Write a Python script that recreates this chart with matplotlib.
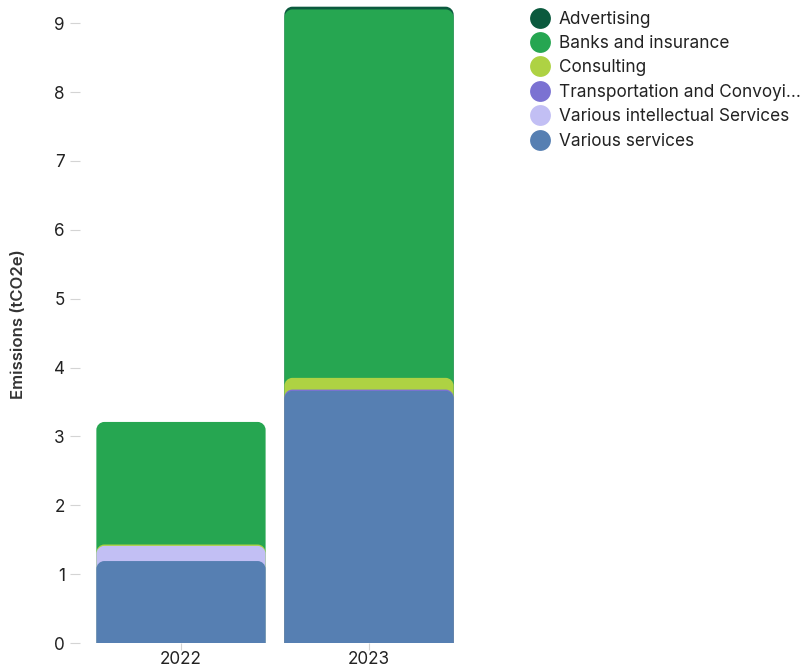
import matplotlib
matplotlib.use("Agg")
import matplotlib.pyplot as plt
from matplotlib.path import Path
from matplotlib.patches import PathPatch
from matplotlib.lines import Line2D
import numpy as np

plt.rcParams['font.family'] = ['Inter', 'DejaVu Sans']

years = ["2022", "2023"]
categories = [
    "Advertising",
    "Banks and insurance",
    "Consulting",
    "Transportation and Convoyi…",
    "Various intellectual Services",
    "Various services",
]
colors = ["#0b5a3e", "#26a651", "#aed243", "#7b72d2", "#c2bff4", "#567fb2"]

# emissions per category (tCO2e), same order as categories
advertising = [0.0, 0.04]
banks = [1.78, 5.35]
consulting = [0.02, 0.17]
transportation = [0.0, 0.02]
intellectual = [0.22, 0.0]
various = [1.19, 3.66]
series = [advertising, banks, consulting, transportation, intellectual, various]

fig = plt.figure(figsize=(8, 6.68), dpi=100)
ax = fig.add_axes([80 / 800, 25 / 668, 390 / 800, 637 / 668])
ax.set_xlim(-0.537, 1.537)
ax.set_ylim(0, 9.25)

x = np.arange(len(years))
width = 0.9

# cumulative tops, stacking from the last category upward
bottoms = np.zeros(len(years))
tops = {}
for i in reversed(range(len(categories))):
    vals = np.array(series[i])
    tops[i] = bottoms + vals
    bottoms = bottoms + vals

fig.canvas.draw()
# corner radius in data units
px_x = ax.transData.transform((1, 0))[0] - ax.transData.transform((0, 0))[0]
px_y = ax.transData.transform((0, 1))[1] - ax.transData.transform((0, 0))[1]
r_px = 8
rx, ry = r_px / px_x, r_px / px_y


def rounded_top(x0, x1, y0, y1):
    h = y1 - y0
    ryy = min(ry, max(h, 0))
    k = 0.5523
    verts = [
        (x0, y0), (x0, y1 - ryy),
        (x0, y1 - ryy + k * ryy), (x0 + rx - k * rx, y1), (x0 + rx, y1),
        (x1 - rx, y1),
        (x1 - rx + k * rx, y1), (x1, y1 - ryy + k * ryy), (x1, y1 - ryy),
        (x1, y0), (x0, y0),
    ]
    codes = [Path.MOVETO, Path.LINETO,
             Path.CURVE4, Path.CURVE4, Path.CURVE4,
             Path.LINETO,
             Path.CURVE4, Path.CURVE4, Path.CURVE4,
             Path.LINETO, Path.CLOSEPOLY]
    return Path(verts, codes)


# upper segments are drawn first so the lower ones sit in front of them
for i in range(len(categories)):
    for j in range(len(years)):
        if series[i][j] <= 0:
            continue
        p = rounded_top(x[j] - width / 2, x[j] + width / 2, 0.0, tops[i][j])
        ax.add_patch(PathPatch(p, facecolor=colors[i], edgecolor="none", zorder=2))

ax.set_xticks(x)
ax.set_xticklabels(years)
ax.set_yticks(range(0, 10))
for s in ax.spines.values():
    s.set_visible(False)
ax.tick_params(axis="both", width=0.8, color="#d4d4d4",
               labelsize=12.3, labelcolor="#222222")
ax.tick_params(axis="x", length=5, pad=1)
ax.tick_params(axis="y", length=7, pad=4)
ax.set_ylabel("Emissions (tCO2e)", fontsize=12, fontweight="semibold",
              color="#333333", labelpad=20)

handles = [Line2D([], [], marker="o", linestyle="none", markersize=15,
                  markerfacecolor=c, markeredgecolor="none") for c in colors]
fig.legend(handles, categories, loc="upper left", bbox_to_anchor=(520 / 800, 1 - 2 / 668),
           frameon=False, fontsize=12.4, handletextpad=0.45, labelspacing=0.43,
           borderpad=0, handlelength=1.3, labelcolor="#222222")

fig.savefig("out.png", dpi=100)
